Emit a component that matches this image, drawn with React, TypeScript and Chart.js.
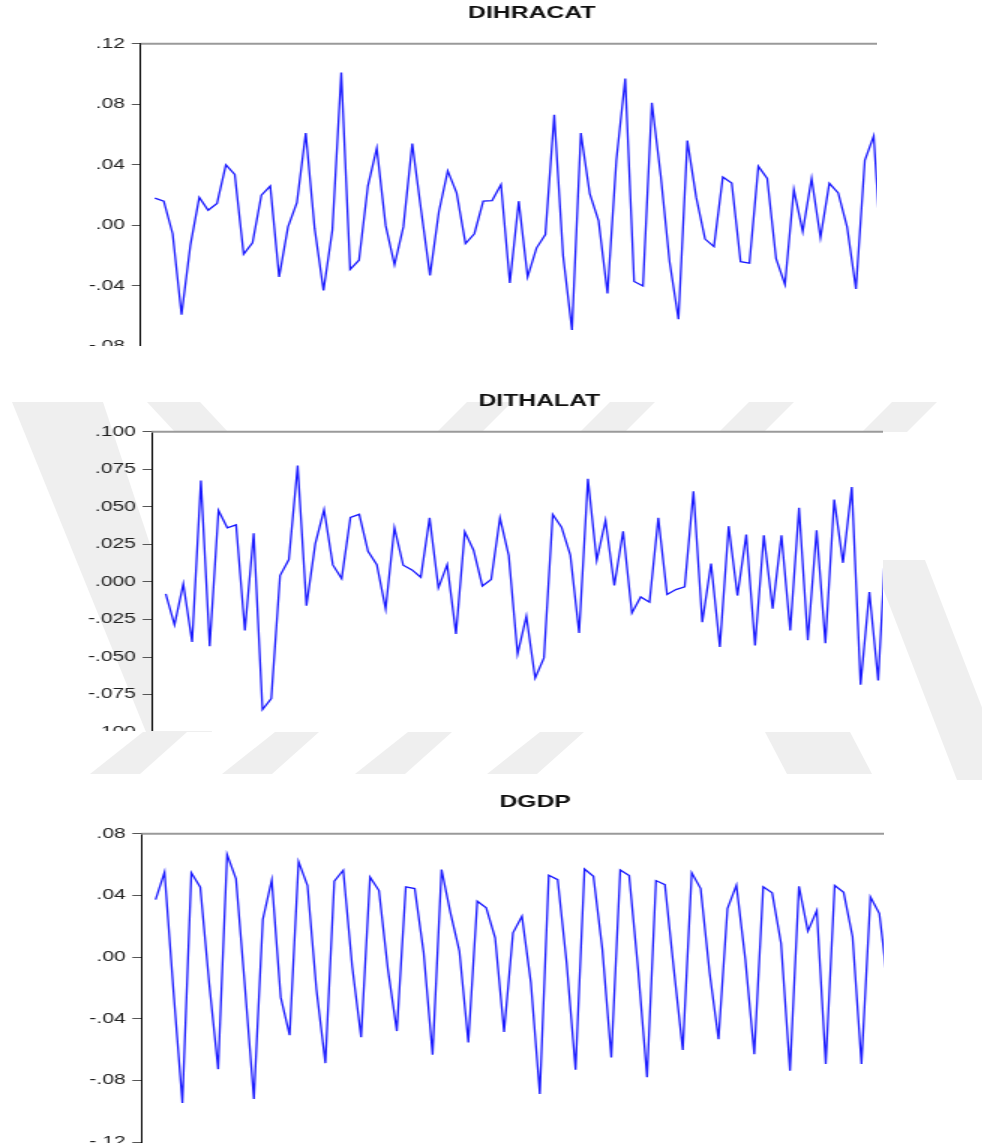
import { useEffect, useRef } from "react";
import { Chart, registerables } from "chart.js";

Chart.register(...registerables);

// ---- data ----
const dihracat = [
  0.018, 0.016, -0.0055, -0.059, -0.013, 0.0185, 0.01, 0.0145, 0.04, 0.0337,
  -0.019, -0.0115, 0.02, 0.026, -0.034, -0.001, 0.015, 0.061, -0.002, -0.043,
  -0.003, 0.101, -0.029, -0.023, 0.026, 0.051, 0.0, -0.026, -0.001, 0.054,
  0.01, -0.033, 0.009, 0.036, 0.0215, -0.012, -0.0055, 0.016, 0.0164, 0.027,
  -0.038, 0.016, -0.034, -0.015, -0.006, 0.073, -0.02, -0.069, 0.061, 0.021,
  0.003, -0.045, 0.043, 0.097, -0.037, -0.04, 0.081, 0.033, -0.024, -0.062,
  0.056, 0.0185, -0.009, -0.014, 0.032, 0.028, -0.024, -0.025, 0.039, 0.031,
  -0.022, -0.039, 0.0236, -0.004, 0.031, -0.008, 0.0278, 0.0214, -0.001, -0.042,
  0.043, 0.059, -0.03,
];

const dithalat = [
  -0.008, -0.0286, -0.0013, -0.04, 0.0675, -0.0429, 0.0475, 0.036, 0.038, -0.0324,
  0.0324, -0.085, -0.0777, 0.0042, 0.0149, 0.0775, -0.0158, 0.0253, 0.048, 0.0113,
  0.0022, 0.043, 0.045, 0.0204, 0.0115, -0.018, 0.036, 0.0111, 0.008, 0.0031,
  0.0426, -0.004, 0.0115, -0.0346, 0.0333, 0.0211, -0.0027, 0.0016, 0.0426, 0.0175,
  -0.048, -0.0229, -0.064, -0.0506, 0.0449, 0.0364, 0.0178, -0.034, 0.0686, 0.0144,
  0.0409, -0.0024, 0.0337, -0.0207, -0.01, -0.0135, 0.0426, -0.0084, -0.0051, -0.0033,
  0.0604, -0.0269, 0.0122, -0.0433, 0.0371, -0.0091, 0.0315, -0.0424, 0.0311, -0.0178,
  0.0311, -0.0324, 0.0493, -0.0389, 0.0344, -0.0409, 0.0548, 0.0127, 0.0631, -0.0684,
  -0.0067, -0.0657, 0.04,
];

const dgdp = [
  0.0373, 0.055, -0.022, -0.0947, 0.0546, 0.0453, -0.0172, -0.0727, 0.0664, 0.0507,
  -0.0194, -0.092, 0.0244, 0.05, -0.026, -0.0507, 0.0619, 0.0464, -0.021, -0.0688,
  0.0492, 0.0563, -0.006, -0.052, 0.0518, 0.0431, -0.008, -0.048, 0.0455, 0.0444,
  0.0028, -0.0634, 0.0567, 0.0287, 0.0039, -0.0554, 0.0362, 0.0319, 0.0125, -0.0485,
  0.0157, 0.0265, -0.0166, -0.0888, 0.053, 0.0502, -0.0037, -0.0731, 0.0571, 0.0524,
  0.005, -0.0651, 0.0565, 0.0528, -0.008, -0.078, 0.0496, 0.047, -0.008, -0.0602,
  0.0546, 0.0444, -0.01, -0.0533, 0.0315, 0.0466, -0.0015, -0.063, 0.0455, 0.0416,
  0.0088, -0.0737, 0.0459, 0.0168, 0.0302, -0.0694, 0.0464, 0.042, 0.0132, -0.0694,
  0.039, 0.0282, -0.02,
];

const titles = ["DIHRACAT", "DITHALAT", "DGDP"];

// y-axis ranges / tick steps / label decimals for each panel
const yMins = [-0.12, -0.1, -0.12];
const yMaxs = [0.12, 0.1, 0.08];
const ySteps = [0.04, 0.025, 0.04];
const yDecimals = [2, 3, 2];

// ---- layout (horizontal stretch reproduces the widened raster) ----
const STRETCH = 1.5;
const CANVAS_W = 640;

type Panel = {
  title: string;
  values: number[];
  yMin: number;
  yMax: number;
  yStep: number;
  dec: number;
  top: number;
  clipW: number;
  clipH: number;
  ch: number;
  axisW: number;
  padTop: number;
  padBottom: number;
  padRight: number;
  titleY: number;
};

const panels: Panel[] = [
  {
    title: titles[0], values: dihracat, yMin: yMins[0], yMax: yMaxs[0], yStep: ySteps[0], dec: yDecimals[0],
    top: 0, clipW: 877, clipH: 346, ch: 420, axisW: 93.8, padTop: 43.7, padBottom: 10.3, padRight: 24.7, titleY: 13.5,
  },
  {
    title: titles[1], values: dithalat, yMin: yMins[1], yMax: yMaxs[1], yStep: ySteps[1], dec: yDecimals[1],
    top: 385, clipW: 883, clipH: 346, ch: 360, axisW: 101.1, padTop: 46.7, padBottom: 12.5, padRight: 22, titleY: 16,
  },
  {
    title: titles[2], values: dgdp, yMin: yMins[2], yMax: yMaxs[2], yStep: ySteps[2], dec: yDecimals[2],
    top: 790, clipW: 884, clipH: 353, ch: 365, axisW: 94.2, padTop: 43.7, padBottom: 12.3, padRight: 20.7, titleY: 12,
  },
];

const fmt = (v: number, d: number) => {
  const s = Math.abs(v).toFixed(d).replace(/^0/, "");
  return (v < -1e-9 ? "-" : "") + s;
};

function PanelChart({ p }: { p: Panel }) {
  const ref = useRef<HTMLCanvasElement | null>(null);
  useEffect(() => {
    if (!ref.current) return;
    const framePlugin = {
      id: "frame",
      beforeDraw(chart: any) {
        const { ctx, chartArea: a } = chart;
        ctx.save();
        ctx.fillStyle = "#ffffff";
        ctx.fillRect(a.left, a.top, a.right - a.left, a.bottom - a.top);
        ctx.restore();
      },
      afterDraw(chart: any) {
        const { ctx, chartArea: a } = chart;
        ctx.save();
        ctx.strokeStyle = "#9a9a9a";
        ctx.lineWidth = 2;
        ctx.beginPath();
        ctx.moveTo(a.left, a.top);
        ctx.lineTo(a.right, a.top);
        ctx.stroke();
        ctx.fillStyle = "#111111";
        ctx.font = 'bold 16.5px "Liberation Sans", Arial, sans-serif';
        ctx.textAlign = "center";
        ctx.textBaseline = "middle";
        ctx.fillText(p.title, (a.left + a.right) / 2, p.titleY);
        ctx.restore();
      },
    };
    const chart = new Chart(ref.current, {
      type: "line",
      data: {
        datasets: [
          {
            data: p.values.map((v, i) => ({ x: i, y: v })),
            borderColor: "#1a1aff",
            borderWidth: 1.3,
            pointRadius: 0,
            tension: 0,
            fill: false,
          },
        ],
      },
      options: {
        animation: false,
        responsive: false,
        layout: { padding: { top: p.padTop, bottom: p.padBottom, left: 0, right: p.padRight } },
        plugins: { legend: { display: false }, title: { display: false }, tooltip: { enabled: false } },
        scales: {
          x: { type: "linear", min: -1.6, max: 86.55, display: false },
          y: {
            min: p.yMin,
            max: p.yMax,
            afterFit: (s: any) => {
              s.width = p.axisW;
            },
            ticks: {
              stepSize: p.yStep,
              autoSkip: false,
              padding: 4.5,
              color: "#222222",
              font: { family: '"Liberation Sans", Arial, sans-serif', size: 14 },
              callback: (v: any) => fmt(Number(v), p.dec),
            },
            grid: { drawOnChartArea: false, drawTicks: true, tickLength: 6, tickColor: "#555555", tickWidth: 1 },
            border: { display: true, color: "#000000", width: 1 },
          },
        },
      },
      plugins: [framePlugin],
    } as any);
    return () => chart.destroy();
  }, [p]);
  return (
    <div
      style={{ position: "absolute", left: 0, top: p.top, width: p.clipW, height: p.clipH, overflow: "hidden", zIndex: 1 }}
    >
      <canvas
        ref={ref}
        width={CANVAS_W}
        height={p.ch}
        style={{ width: CANVAS_W * STRETCH, height: p.ch, display: "block" }}
      />
    </div>
  );
}

const topStripes = [437, 580, 719, 862];
const bottomStripes = [143, 275, 408, 540];

function Watermark() {
  const c = "#efefef";
  return (
    <svg
      width={982}
      height={1146}
      style={{ position: "absolute", left: 0, top: 0, zIndex: 0 }}
    >
      <polygon points="12,402 103,402 212,732 146,732" fill={c} />
      <polygon points="147,402 200,402 228,432 175,432" fill={c} />
      {topStripes.map((x) => (
        <polygon key={"t" + x} points={`${x + 30},402 ${x + 75},402 ${x + 45},432 ${x},432`} fill={c} />
      ))}
      {bottomStripes.map((a) => (
        <polygon key={"b" + a} points={`${a},732 ${a + 44},732 ${a - 3},774 ${a - 53},774`} fill={c} />
      ))}
      <polygon points="872,560 925,560 1010,780 957,780" fill={c} />
      <polygon points="765,732 850,732 872,774 787,774" fill={c} />
    </svg>
  );
}

export default function App() {
  return (
    <div>
      <Watermark />
      {panels.map((p) => (
        <PanelChart key={p.title} p={p} />
      ))}
    </div>
  );
}
